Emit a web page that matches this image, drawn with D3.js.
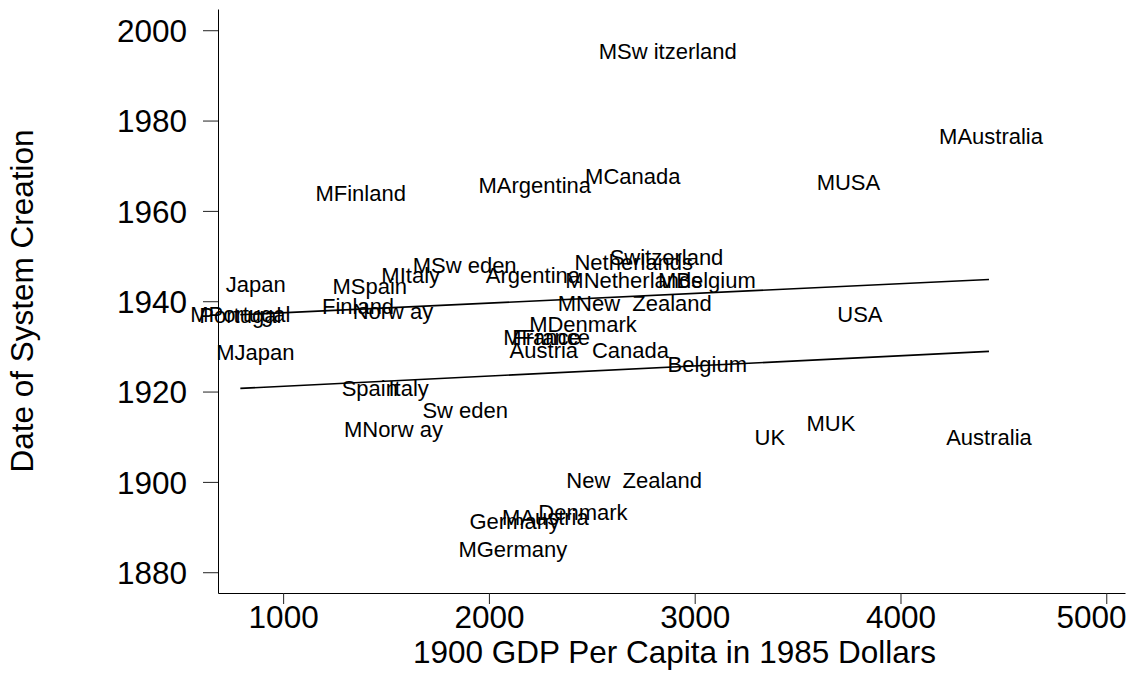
<!DOCTYPE html>
<html>
<head>
<meta charset="utf-8">
<script src="https://cdn.jsdelivr.net/npm/d3@7"></script>
<style>
  html, body { margin: 0; padding: 0; background: #fff; }
  svg { display: block; font-family: "Liberation Sans", Arial, Helvetica, sans-serif; }
  .lbl { white-space: pre; }
</style>
</head>
<body>
<svg id="chart" width="1130" height="673"></svg>
<script>
// ---- Data ----
const mLabels = ["MSw itzerland","MAustralia","MFinland","MArgentina","MCanada","MUSA","MSw eden","MItaly","MSpain","MNetherlands","MBelgium","MNew  Zealand","MDenmark","MFrance","MPortugal","MJapan","MNorw ay","MAustria","MGermany","MUK"];
const mGdp   = [2869,4440,1377,2223,2699,3747,1882,1620,1421,2704,3059,2709,2457,2280,792,865,1536,2274,2116,3662];
const mYear  = [1995.4,1976.5,1963.9,1965.7,1967.8,1966.4,1947.9,1945.8,1943.4,1944.7,1944.7,1939.6,1934.9,1932.0,1937.2,1928.8,1911.6,1892.3,1885.2,1913.1];

const pLabels = ["Switzerland","Netherlands","Argentina","Japan","Finland","Norw ay","Portugal","Spain","Italy","Sw eden","France","Austria","Canada","Belgium","USA","UK","Australia","New  Zealand","Denmark","Germany"];
const pGdp   = [2863,2704,2214,867,1364,1534,792,1421,1610,1885,2280,2267,2688,3061,3803,3365,4430,2706,2457,2125];
const pYear  = [1949.7,1948.7,1945.8,1943.7,1939.0,1937.9,1937.0,1920.7,1920.7,1916.0,1932.0,1929.1,1929.1,1926.0,1937.1,1910.0,1910.0,1900.3,1893.4,1891.3];

// fitted lines (endpoints)
const fitGdp = [792, 4430];
const fitM   = [1937.0, 1944.8];
const fitP   = [1920.7, 1928.9];

const xTicks = [1000, 2000, 3000, 4000, 5000];
const yTicks = [1880, 1900, 1920, 1940, 1960, 1980, 2000];
const xTitle = "1900 GDP Per Capita in 1985 Dollars";
const yTitle = "Date of System Creation";

// ---- Drawing ----
const W = 1130;
const svg = d3.select("#chart");
const x = d3.scaleLinear().domain([683.5, 5091]).range([218, 1125]);
const y = d3.scaleLinear().domain([1875.4, 2004.7]).range([593, 9]);

const axisFont = 31.5;
const lblFont = 22;

// y axis
const gy = svg.append("g").attr("transform", `translate(${x.range()[0]},0)`)
  .call(d3.axisLeft(y).tickValues(yTicks).tickFormat(d3.format("d")).tickSize(15).tickSizeOuter(0).tickPadding(16));
gy.selectAll("text").attr("font-size", axisFont).attr("font-family", "Liberation Sans, Arial, sans-serif").attr("fill", "#000").attr("dy", "0.36em");
gy.selectAll("line").attr("stroke", "#222");
gy.select(".domain").attr("stroke", "#000");

// x axis
const gx = svg.append("g").attr("transform", `translate(0,${y.range()[0]})`)
  .call(d3.axisBottom(x).tickValues(xTicks).tickFormat(d3.format("d")).tickSize(11).tickSizeOuter(0).tickPadding(2));
gx.selectAll("text").attr("font-size", axisFont).attr("font-family", "Liberation Sans, Arial, sans-serif").attr("fill", "#000");
gx.selectAll("line").attr("stroke", "#222");
gx.select(".domain").attr("stroke", "#000");
// keep tick labels inside the picture (last label is pulled in, as in the reference)
gx.selectAll(".tick").each(function(d) {
  const t = d3.select(this).select("text");
  const w = t.node().getComputedTextLength();
  const right = x(d) + w / 2;
  const maxRight = W - 4;
  if (right > maxRight) t.attr("x", maxRight - right);
});

// axis titles
svg.append("text")
  .attr("x", (x.range()[0] + x.range()[1]) / 2 + 3)
  .attr("y", 663)
  .attr("text-anchor", "middle")
  .attr("font-size", axisFont)
  .text(xTitle);

svg.append("text")
  .attr("transform", `translate(33,${(y.range()[0] + y.range()[1]) / 2}) rotate(-90)`)
  .attr("text-anchor", "middle")
  .attr("font-size", axisFont)
  .text(yTitle);

// fitted lines
const line = d3.line().x(d => x(d[0])).y(d => y(d[1]));
[fitM, fitP].forEach(fit => {
  svg.append("path")
    .datum(fitGdp.map((g, i) => [g, fit[i]]))
    .attr("d", line)
    .attr("fill", "none")
    .attr("stroke", "#000")
    .attr("stroke-width", 1.6);
});

// labels (markers invisible, labels centred on points)
function drawLabels(labels, gdp, year) {
  svg.append("g").selectAll("text")
    .data(labels.map((l, i) => ({ l, g: gdp[i], yr: year[i] })))
    .join("text")
    .attr("class", "lbl")
    .attr("x", d => x(d.g))
    .attr("y", d => y(d.yr))
    .attr("dy", "0.36em")
    .attr("text-anchor", "middle")
    .attr("font-size", lblFont)
    .attr("fill", "#000")
    .text(d => d.l);
}
drawLabels(mLabels, mGdp, mYear);
drawLabels(pLabels, pGdp, pYear);
</script>
</body>
</html>
